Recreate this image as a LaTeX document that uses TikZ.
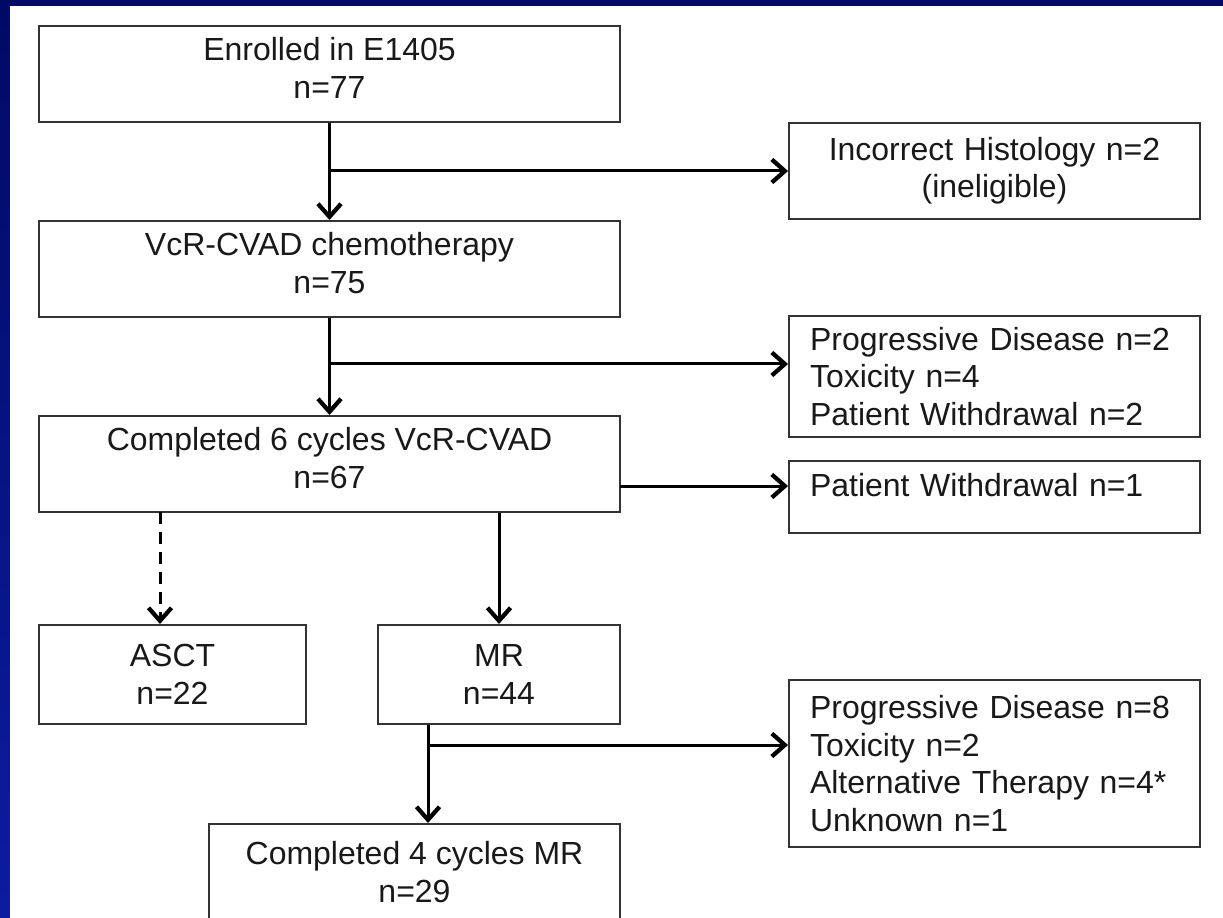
\documentclass[tikz,border=0pt]{standalone}
\usepackage{fontspec}
\setmainfont{Liberation Sans}
\usetikzlibrary{arrows.meta}
\definecolor{frametop}{RGB}{0,10,100}
\definecolor{framebot}{RGB}{12,28,160}
\begin{document}
\begin{tikzpicture}[x=0.02cm, y=-0.02cm,
	>={Straight Barb[length=0.26cm, width=0.46cm, line width=0.085cm]},
	every node/.style={font=\fontsize{18.2}{21.3}\selectfont, text=black!90},
	box/.style={draw=black!80, line width=0.04cm, align=center, inner sep=0,
				minimum height=1.92cm},
	outbox/.style={box, align=left, inner xsep=0.42cm, text width=7.38cm},
	link/.style={->, line width=0.06cm}]
	\useasboundingbox (0,0) rectangle (1223,918);
	\shade[top color=frametop, bottom color=framebot] (0,0) rectangle (1223,918);
	\fill[white] (10,6) rectangle (1223,918);
	\clip (0,0) rectangle (1223,918);

	\node[box, minimum width=11.62cm, text depth=0.24cm] (enrol) at (329.5,74) {Enrolled in E1405\\n=77};
	\node[box, minimum width=11.62cm, text depth=0.24cm] (chemo) at (329.5,269) {VcR-CVAD chemotherapy\\n=75};
	\node[box, minimum width=11.62cm, text depth=0.24cm] (cyc6) at (329.5,464) {Completed 6 cycles VcR-CVAD\\n=67};
	\node[box, minimum width=5.34cm, minimum height=1.98cm] (asct) at (172.5,674.5) {ASCT\\n=22};
	\node[box, minimum width=4.84cm, minimum height=1.98cm] (mr) at (499,674.5) {MR\\n=44};
	\node[box, minimum width=8.22cm] (cyc4) at (414.5,872) {Completed 4 cycles MR\\n=29};

	\node[outbox, align=center] (hist) at (994.5,171) {Incorrect Histology n=2\\(ineligible)};
	\node[outbox, minimum height=2.42cm] (off1) at (994.5,376.5) {Progressive Disease n=2\\Toxicity n=4\\Patient Withdrawal n=2};
	\node[outbox, minimum height=1.44cm, text depth=0.5cm] (pw) at (994.5,497) {Patient Withdrawal n=1};
	\node[outbox, minimum height=3.34cm] (off2) at (994.5,763.5) {Progressive Disease n=8\\Toxicity n=2\\Alternative Therapy n=4*\\Unknown n=1};

	\coordinate (j1) at (329.5,171);
	\coordinate (j2) at (329.5,364);
	\coordinate (j3) at (620,486);
	\coordinate (j4) at (428,745);
	\coordinate (d1) at (160,512);

	\draw[link] (enrol) -- (chemo);
	\draw[link] (j1) -- (j1 -| hist.west);
	\draw[link] (chemo) -- (cyc6);
	\draw[link] (j2) -- (j2 -| off1.west);
	\draw[link] (j3) -- (j3 -| pw.west);
	\draw[link, dash pattern=on 0.24cm off 0.16cm] (d1) -- (d1 |- asct.north);
	\draw[link] (mr.north |- cyc6.south) -- (mr);
	\draw[link] (j4 |- mr.south) -- (j4 |- cyc4.north);
	\draw[link] (j4) -- (j4 -| off2.west);
\end{tikzpicture}
\end{document}
